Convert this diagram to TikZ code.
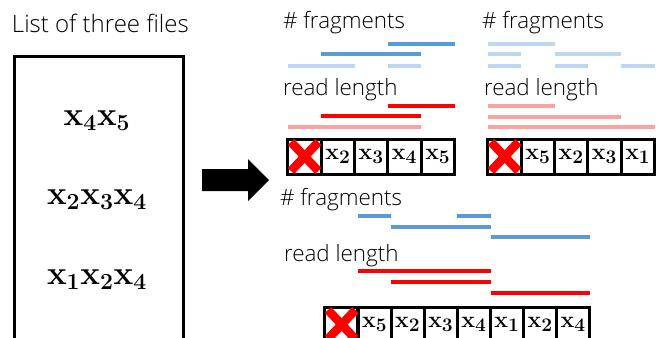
\documentclass[tikz,border=0pt]{standalone}
\usepackage[no-math]{fontspec}
\setmainfont{Open Sans}[UprightFont=* Light]
\usepackage{amsmath}
\usetikzlibrary{positioning}

\definecolor{fragblue}{RGB}{91,155,213}
\definecolor{fraglight}{RGB}{189,215,238}
\definecolor{readred}{RGB}{255,0,0}
\definecolor{readpink}{RGB}{255,160,160}

\newcommand{\fx}[1]{\mathbf{x}_{#1}}

\begin{document}
\begin{tikzpicture}[x=0.75pt,y=-0.75pt,
    every node/.style={inner sep=0pt,outer sep=0pt},
    txt/.style={anchor=base west,font=\fontsize{16.8}{20}\selectfont},
    fileset/.style={font=\fontsize{26}{30}\selectfont\boldmath},
    cell/.style={draw,line width=2.25pt,minimum width=25pt,minimum height=26.25pt,
                 font=\fontsize{19}{21}\selectfont\boldmath},
    fbar/.style={line width=3pt,fragblue},
    flight/.style={line width=3pt,fraglight},
    rbar/.style={line width=3pt,readred},
    rpink/.style={line width=3pt,readpink},
    cross/.style={line width=6.5pt,readred}]
  \useasboundingbox (0,0) rectangle (663,337);
  \clip (0,0) rectangle (663,337);

  % list of files
  \node[txt,font=\fontsize{18}{21}\selectfont] (title) at (12,32) {List of three files};
  \node[draw,line width=2.25pt,minimum width=126.75pt,minimum height=240pt,
        anchor=north west] (files) at (14,56) {};
  \node[fileset] (f1) at (97,121) {$\fx{4}\fx{5}$};
  \node[fileset] (f2) at (97,200) {$\fx{2}\fx{3}\fx{4}$};
  \node[fileset] (f3) at (97,280) {$\fx{1}\fx{2}\fx{4}$};

  % arrow
  \fill (202,169) -- (248,169) -- (248,159) -- (269,180) -- (248,201)
        -- (248,191) -- (202,191) -- cycle;

  % first order
  \node[txt] (fa) at (283,28) {\# fragments};
  \node[txt] (ra) at (283,95) {read length};
  \node[cell] (a0) at (304.65,156.5) {};
  \foreach \s [count=\i] in {2,3,4,5}
    \node[cell] (a\i) at ({288+33.3*\i+16.65},156.5) {$\fx{\s}$};
  \draw[cross] ([shift={(3,3)}]a0.north west) -- ([shift={(-3,-3)}]a0.south east)
               ([shift={(-3,3)}]a0.north east) -- ([shift={(3,-3)}]a0.south west);
  \foreach \p/\q/\y in {3/5/44,1/4/54}
    \draw[fbar] ({288+33.3*\p},\y) -- ({288+33.3*\q},\y);
  \foreach \p/\q/\y in {0/2/66,3/4/66}
    \draw[flight] ({288+33.3*\p},\y) -- ({288+33.3*\q},\y);
  \foreach \p/\q/\y in {3/5/106,1/4/116}
    \draw[rbar] ({288+33.3*\p},\y) -- ({288+33.3*\q},\y);
  \draw[rpink] (288,127) -- ({288+33.3*4},127);

  % second order
  \node[txt] (fb) at (482,28) {\# fragments};
  \node[txt] (rb) at (484,95) {read length};
  \node[cell] (b0) at (504.65,156.5) {};
  \foreach \s [count=\i] in {5,2,3,1}
    \node[cell] (b\i) at ({488+33.3*\i+16.65},156.5) {$\fx{\s}$};
  \draw[cross] ([shift={(3,3)}]b0.north west) -- ([shift={(-3,-3)}]b0.south east)
               ([shift={(-3,3)}]b0.north east) -- ([shift={(3,-3)}]b0.south west);
  \foreach \p/\q/\y in {0/2/44,0/1/54,2/4/54,0/1/66,2/3/66,4/5/66}
    \draw[flight] ({488+33.3*\p},\y) -- ({488+33.3*\q},\y);
  \foreach \p/\q/\y in {0/2/106,0/4/117,0/5/127}
    \draw[rpink] ({488+33.3*\p},\y) -- ({488+33.3*\q},\y);

  % third order
  \node[txt] (fc) at (280,205) {\# fragments};
  \node[txt] (rc) at (284,261) {read length};
  \node[cell] (c0) at (341.65,324.5) {};
  \foreach \s [count=\i] in {5,2,3,4,1,2,4}
    \node[cell] (c\i) at ({325+33.1*\i+16.55},324.5) {$\fx{\s}$};
  \draw[cross] ([shift={(3,3)}]c0.north west) -- ([shift={(-3,-3)}]c0.south east)
               ([shift={(-3,3)}]c0.north east) -- ([shift={(3,-3)}]c0.south west);
  \foreach \p/\q/\y in {1/2/216,4/5/216,2/5/227,5/8/237}
    \draw[fbar] ({325+33.1*\p},\y) -- ({325+33.1*\q},\y);
  \foreach \p/\q/\y in {1/5/271,2/5/282,5/8/293}
    \draw[rbar] ({325+33.1*\p},\y) -- ({325+33.1*\q},\y);
\end{tikzpicture}
\end{document}
